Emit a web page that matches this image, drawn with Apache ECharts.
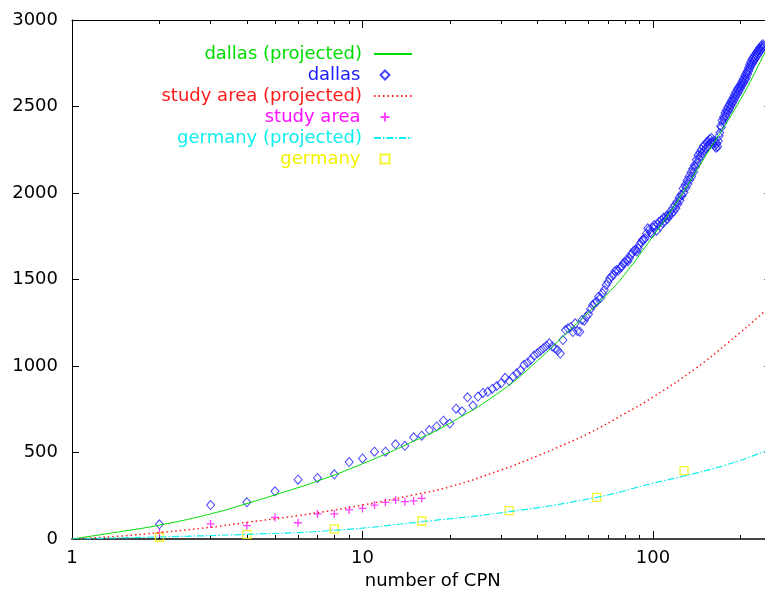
<!DOCTYPE html>
<html>
<head>
<meta charset="utf-8">
<script src="https://cdn.jsdelivr.net/npm/echarts@6/dist/echarts.min.js"></script>
<style>
  html, body { margin: 0; padding: 0; background: #fff; }
</style>
</head>
<body>
<div id="chart" style="width: 765px;height: 591px;"></div>
<script>
// dallas: one point per CPN count, starting at 2
const dallasFirstN = 2
const dallasValues = [
  85, 196, 212, 276, 343, 353, 374, 445, 466, 505,
  505, 547, 539, 588, 597, 630, 651, 684, 667, 753,
  738, 819, 771, 823, 844, 851, 869, 884, 900, 932,
  913, 938, 958, 975, 1007, 1019, 1036, 1060, 1073, 1088,
  1102, 1117, 1131, 1112, 1102, 1090, 1072, 1150, 1208, 1218,
  1224, 1196, 1247, 1202, 1198, 1266, 1262, 1285, 1300, 1330,
  1353, 1362, 1372, 1400, 1393, 1420, 1439, 1468, 1486, 1507,
  1518, 1526, 1548, 1555, 1552, 1566, 1574, 1592, 1598, 1613,
  1606, 1623, 1645, 1652, 1668, 1671, 1662, 1680, 1702, 1716,
  1728, 1731, 1738, 1766, 1796, 1788, 1772, 1765, 1800, 1815,
  1805, 1782, 1820, 1834, 1808, 1842, 1826, 1858, 1838, 1866,
  1850, 1872, 1868, 1895, 1880, 1912, 1894, 1930, 1912, 1948,
  1936, 1972, 1958, 1990, 1986, 2026, 2004, 2046, 2030, 2072,
  2052, 2094, 2076, 2118, 2096, 2140, 2122, 2160, 2150, 2192,
  2172, 2218, 2196, 2236, 2214, 2252, 2232, 2270, 2246, 2280,
  2256, 2292, 2268, 2300, 2280, 2312, 2290, 2318, 2296, 2284,
  2300, 2270, 2292, 2262, 2286, 2268, 2300, 2330, 2348, 2388,
  2380, 2420, 2404, 2440, 2426, 2462, 2444, 2480, 2462, 2496,
  2476, 2508, 2490, 2524, 2506, 2538, 2522, 2552, 2534, 2570,
  2550, 2584, 2566, 2598, 2576, 2608, 2590, 2620, 2604, 2632,
  2618, 2648, 2630, 2660, 2642, 2676, 2656, 2690, 2668, 2704,
  2688, 2722, 2706, 2742, 2722, 2756, 2738, 2770, 2748, 2780,
  2760, 2790, 2772, 2800, 2782, 2810, 2792, 2820, 2802, 2830,
  2812, 2838, 2822, 2846, 2830, 2852, 2838, 2860, 2848
]
const dallasProjX = [1, 1.5, 2, 3, 4, 5, 7, 10, 15, 20, 30, 40, 50, 60, 70, 80, 100, 120, 150, 200, 241, 256]
const dallasProjY = [0, 45, 80, 145, 205, 255, 335, 435, 565, 670, 855, 1030, 1185, 1310, 1420, 1530, 1750, 1940, 2200, 2540, 2800, 2890]

const studyX = [2, 3, 4, 5, 6, 7, 8, 9, 10, 11, 12, 13, 14, 15, 16]
const studyY = [35, 87, 77, 125, 94, 145, 145, 168, 177, 196, 212, 225, 216, 220, 235]
const studyProjX = [1, 1.5, 2, 3, 4, 6, 8, 10, 15, 20, 30, 40, 50, 60, 80, 100, 140, 180, 241, 256]
const studyProjY = [0, 18, 37, 68, 96, 135, 168, 196, 255, 302, 399, 480, 550, 610, 725, 820, 985, 1130, 1312, 1355]

const germanyX = [2, 4, 8, 16, 32, 64, 128]
const germanyY = [10, 27, 58, 104, 164, 241, 395]
const germanyProjX = [1, 2, 4, 8, 16, 32, 64, 100, 128, 180, 241, 256]
const germanyProjY = [0, 12, 27, 50, 100, 158, 241, 322, 364, 430, 504, 524]

const yTicks = [0, 500, 1000, 1500, 2000, 2500, 3000]
const xMajor = [1, 10, 100]
const xMinor = [2, 3, 4, 5, 6, 7, 8, 9, 20, 30, 40, 50, 60, 70, 80, 90, 200]

const names = ['dallas (projected)', 'dallas', 'study area (projected)', 'study area', 'germany (projected)', 'germany']
const colors = ['#00dd00', '#1a1aff', '#ff1a1a', '#ff10ff', '#10eeee', '#f2f200']

const FONT = 'DejaVu Sans'
const X_MAX = 256

function zip(xs, ys) {
  return xs.map((x, i) => [x, ys[i]])
}

function xAxisDef(pos, ticks, len, showLine, showLabel) {
  return {
    type: 'log',
    logBase: 10,
    min: 1,
    max: X_MAX,
    position: pos,
    axisLine: { show: showLine, lineStyle: { color: pos === 'bottom' ? '#444' : '#000', width: pos === 'bottom' ? 2 : 1 } },
    axisTick: { show: true, inside: true, length: len, customValues: ticks, lineStyle: { color: '#000' } },
    axisLabel: { show: showLabel, customValues: ticks, fontSize: 18, fontFamily: FONT, color: '#000', margin: 10 },
    splitLine: { show: false },
    minorTick: { show: false }
  }
}

const xAxes = [
  xAxisDef('bottom', xMajor, 8, true, true),
  xAxisDef('bottom', xMinor, 4, false, false),
  xAxisDef('top', xMajor, 8, true, false),
  xAxisDef('top', xMinor, 4, false, false)
]
xAxes[0].name = 'number of CPN'
xAxes[0].nameLocation = 'middle'
xAxes[0].nameGap = 30
xAxes[0].nameTextStyle = { fontSize: 18, fontFamily: FONT, color: '#000', padding: [0, 0, 0, 22] }

const legendRows = [54, 75, 96, 117, 138, 159]
const legends = names.map((name, i) => {
  const isLine = i % 2 === 0
  return {
    data: [name],
    orient: 'vertical',
    align: 'right',
    padding: 0,
    right: isLine ? 352 : 373,
    top: legendRows[i] - 9,
    itemWidth: isLine ? 38 : 9,
    itemHeight: isLine ? 14 : 9,
    selectedMode: false,
    itemStyle: isLine ? { opacity: 0 } : {},
    textStyle: { color: colors[i], fontSize: 18, fontFamily: FONT, lineHeight: 18, padding: [0, isLine ? 7 : 15, 0, 0] }
  }
})

const options = {
  animation: false,
  backgroundColor: '#fff',
  // plot runs on past the right edge of the picture (x up to 256)
  grid: { left: 72, top: 20, width: 699.5, bottom: 52, outerBoundsMode: 'none' },
  legend: legends,
  xAxis: xAxes,
  yAxis: [
    {
      type: 'value',
      min: 0,
      max: 3000,
      interval: 500,
      position: 'left',
      axisLine: { show: true, lineStyle: { color: '#000' } },
      axisTick: { show: true, inside: true, length: 7, lineStyle: { color: '#000' } },
      axisLabel: { fontSize: 18, fontFamily: FONT, color: '#000', margin: 14, customValues: yTicks, formatter: (v) => String(v) },
      splitLine: { show: false }
    },
    {
      type: 'value',
      min: 0,
      max: 3000,
      interval: 500,
      position: 'right',
      axisLine: { show: true, lineStyle: { color: '#000' } },
      axisTick: { show: true, inside: true, length: 7, lineStyle: { color: '#000' } },
      axisLabel: { show: false },
      splitLine: { show: false }
    }
  ],
  series: [
    {
      name: names[0],
      type: 'line',
      smooth: true,
      symbol: 'none',
      data: zip(dallasProjX, dallasProjY),
      lineStyle: { color: colors[0], width: 1 },
      itemStyle: { color: colors[0] }
    },
    {
      name: names[1],
      type: 'scatter',
      symbol: 'diamond',
      symbolSize: [8, 9],
      data: dallasValues.map((v, i) => [i + dallasFirstN, v]),
      itemStyle: { color: 'none', borderColor: colors[1], borderWidth: 1 }
    },
    {
      name: names[2],
      type: 'line',
      smooth: true,
      symbol: 'none',
      data: zip(studyProjX, studyProjY),
      lineStyle: { color: colors[2], width: 1.5, type: [1.5, 3] },
      itemStyle: { color: colors[2] }
    },
    {
      name: names[3],
      type: 'scatter',
      symbol: 'path://M0,5L10,5M5,0L5,10',
      symbolSize: 8,
      data: zip(studyX, studyY),
      itemStyle: { color: 'none', borderColor: colors[3], borderWidth: 1.3 }
    },
    {
      name: names[4],
      type: 'line',
      smooth: true,
      symbol: 'none',
      data: zip(germanyProjX, germanyProjY),
      lineStyle: { color: colors[4], width: 1.2, type: [7, 2, 1.5, 2] },
      itemStyle: { color: colors[4] }
    },
    {
      name: names[5],
      type: 'scatter',
      symbol: 'rect',
      symbolSize: 8,
      data: zip(germanyX, germanyY),
      itemStyle: { color: 'none', borderColor: colors[5], borderWidth: 1.3 }
    }
  ]
}

const chart = echarts.init(document.getElementById('chart'))
chart.setOption(options)
window.addEventListener('resize', () => {
  chart.resize()
})
</script>
</body>
</html>
